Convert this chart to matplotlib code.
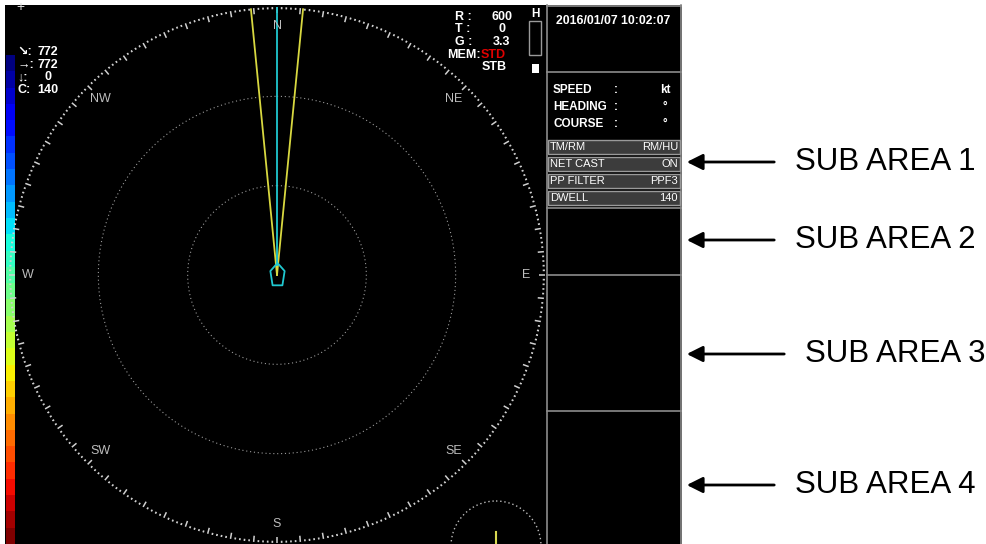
import numpy as np
import matplotlib.pyplot as plt
from matplotlib.patches import Rectangle, Circle
from matplotlib.path import Path

plt.rcParams['font.family'] = ['Liberation Sans', 'DejaVu Sans']

# ---- values shown on the display ----
range_max = 600
range_rings = [200, 400]
compass_labels = ['N', 'NE', 'E', 'SE', 'S', 'SW', 'W', 'NW']
compass_bearings = [0, 45, 90, 135, 180, 225, 270, 315]
beam_bearings = [-5.6, 5.6]
heading = 0

status_labels = ['R', 'T', 'G']
status_values = ['600', '0', '3.3']

legend_symbols = ['\u2198', '\u2192', '\u2193', 'C']
legend_values = ['772', '772', '0', '140']

timestamp = '2016/01/07 10:02:07'
nav_labels = ['SPEED', 'HEADING', 'COURSE']
nav_units = ['kt', '\u00b0', '\u00b0']

menu_items = ['TM/RM', 'NET CAST', 'PP FILTER', 'DWELL']
menu_values = ['RM/HU', 'ON', 'PPF3', '140']

sub_areas = ['SUB AREA 1', 'SUB AREA 2', 'SUB AREA 3', 'SUB AREA 4']
sub_area_y = [162, 240, 354, 485]
sub_area_x = [885, 885, 895, 885]

W, H = 987, 544
fig = plt.figure(figsize=(W / 100, H / 100), dpi=100)
fig.patch.set_facecolor('white')

# pixel-space axes for the screen frame and text
ax = fig.add_axes([0, 0, 1, 1])
ax.set_xlim(0, W)
ax.set_ylim(H, 0)
ax.axis('off')

ax.add_patch(Rectangle((5, 5), 677, 540, facecolor='black', edgecolor='none', zorder=0))

# colour scale on the left edge
cax = fig.add_axes([6 / W, 0, 9 / W, (H - 55) / H])
cax.imshow(np.arange(30).reshape(-1, 1), cmap='jet', aspect='auto', interpolation='nearest')
cax.axis('off')

# right info panel frame
panel_c = '#8c8c8c'
ax.plot([547, 547], [5, 544], color=panel_c, lw=1.2, zorder=2)
ax.plot([681, 681], [5, 544], color=panel_c, lw=1.2, zorder=2)
ax.plot([547, 681], [5.5, 5.5], color=panel_c, lw=1.2, zorder=2)
for yy in [72, 208, 275, 411]:
    ax.plot([547, 681], [yy, yy], color=panel_c, lw=1.2, zorder=2)

bold = dict(color='white', fontweight='bold', va='center')
ax.text(613, 21, timestamp, ha='center', fontsize=8.8, **bold)
for i, (lab, unit) in enumerate(zip(nav_labels, nav_units)):
    y = 90 + i * 17
    ax.text(553, y, lab, ha='left', fontsize=8.5, **bold)
    ax.text(616, y, ':', ha='center', fontsize=8.5, **bold)
    ax.text(665, y, unit, ha='center', fontsize=8.5, **bold)

for i, (item, val) in enumerate(zip(menu_items, menu_values)):
    y = 147 + i * 17
    ax.add_patch(Rectangle((548, y - 7), 132, 14, facecolor='#3c3c3c',
                           edgecolor='#9a9a9a', lw=1.0, zorder=2))
    ax.text(550, y, item, ha='left', va='center', color='white', fontsize=8, zorder=3)
    ax.text(678, y, val, ha='right', va='center', color='white', fontsize=8, zorder=3)

# top-left legend
ax.text(20, 7, '+', ha='center', va='center', color='#dddddd', fontsize=10)
for i, (sym, val) in enumerate(zip(legend_symbols, legend_values)):
    y = 52 + i * 12.7
    ax.text(17, y, sym + ':', ha='left', fontsize=9, **bold)
    ax.text(48, y, val, ha='center', fontsize=9, **bold)

# range / gain block
for i, (lab, val) in enumerate(zip(status_labels, status_values)):
    y = 17 + i * 12.5
    ax.text(455, y, lab + ' :', ha='left', fontsize=9, **bold)
    ax.text(502, y, val, ha='center', fontsize=9, **bold)
ax.text(481, 54.5, 'MEM:', ha='right', fontsize=9, **bold)
ax.text(481, 54.5, 'STD', ha='left', fontsize=9, color='#e00000', fontweight='bold', va='center')
ax.text(494, 67, 'STB', ha='center', fontsize=9, **bold)
ax.text(535, 14, 'H', ha='center', fontsize=8.5, **bold)
ax.add_patch(Rectangle((529, 21), 12, 34, facecolor='none', edgecolor='#9a9a9a', lw=1.0))
ax.add_patch(Rectangle((531.5, 64), 7, 9, facecolor='white', edgecolor='none'))

# small own-ship scale circle at the bottom
ax.add_patch(Circle((496, 546), 45, facecolor='none', edgecolor='#bbbbbb',
                    lw=1.0, linestyle=(0, (1, 2))))
ax.plot([496, 496], [532, 544], color='#d8d850', lw=1.5)

# sub-area call-outs
for lab, x, y in zip(sub_areas, sub_area_x, sub_area_y):
    ax.annotate('', xy=(684, y), xytext=(x - 108, y),
                arrowprops=dict(arrowstyle='-|>', color='black', lw=2, mutation_scale=24))
    ax.text(x, y, lab, ha='center', va='center', color='black', fontsize=22.5)

# ---- polar sonar display ----
cx, cy, rad = 277, 275, 268
pax = fig.add_axes([(cx - rad) / W, (H - cy - rad) / H, 2 * rad / W, 2 * rad / H],
                   projection='polar')
pax.set_facecolor('none')
pax.set_theta_zero_location('N')
pax.set_theta_direction(-1)
pax.set_ylim(0, range_max)
pax.grid(False)
pax.set_xticks([])
pax.set_yticks([])
pax.spines['polar'].set_visible(False)

theta_full = np.linspace(0, 2 * np.pi, 721)
for r in range_rings:
    pax.plot(theta_full, np.full_like(theta_full, r), color='#9a9a9a', lw=0.8,
             linestyle=(0, (1, 2.5)))

deg = np.arange(360)
minor = deg[deg % 5 != 0]
major = deg[deg % 5 == 0]
pax.vlines(np.deg2rad(minor), 595, 600, color='#d0d0d0', lw=1.2)
pax.vlines(np.deg2rad(major), 586, 600, color='#d0d0d0', lw=1.1)

for lab, b in zip(compass_labels, compass_bearings):
    pax.text(np.deg2rad(b), 558, lab, ha='center', va='center', color='#bdbdbd', fontsize=9)

for b in beam_bearings:
    pax.plot([np.deg2rad(b), np.deg2rad(b)], [0, 600], color='#d8d840', lw=1.3)
pax.plot([np.deg2rad(heading)] * 2, [22, 600], color='#20c8d0', lw=1.3)

ship = Path([(0, 14), (-8, 5), (-5.5, -11), (5.5, -11), (8, 5), (0, 14)],
            [Path.MOVETO] + [Path.LINETO] * 4 + [Path.CLOSEPOLY])
pax.plot([0], [0], marker=ship, markersize=18, markerfacecolor='none',
         markeredgecolor='#20c8d0', markeredgewidth=1.3, clip_on=False)

fig.savefig('out.png', dpi=100, facecolor=fig.get_facecolor())
